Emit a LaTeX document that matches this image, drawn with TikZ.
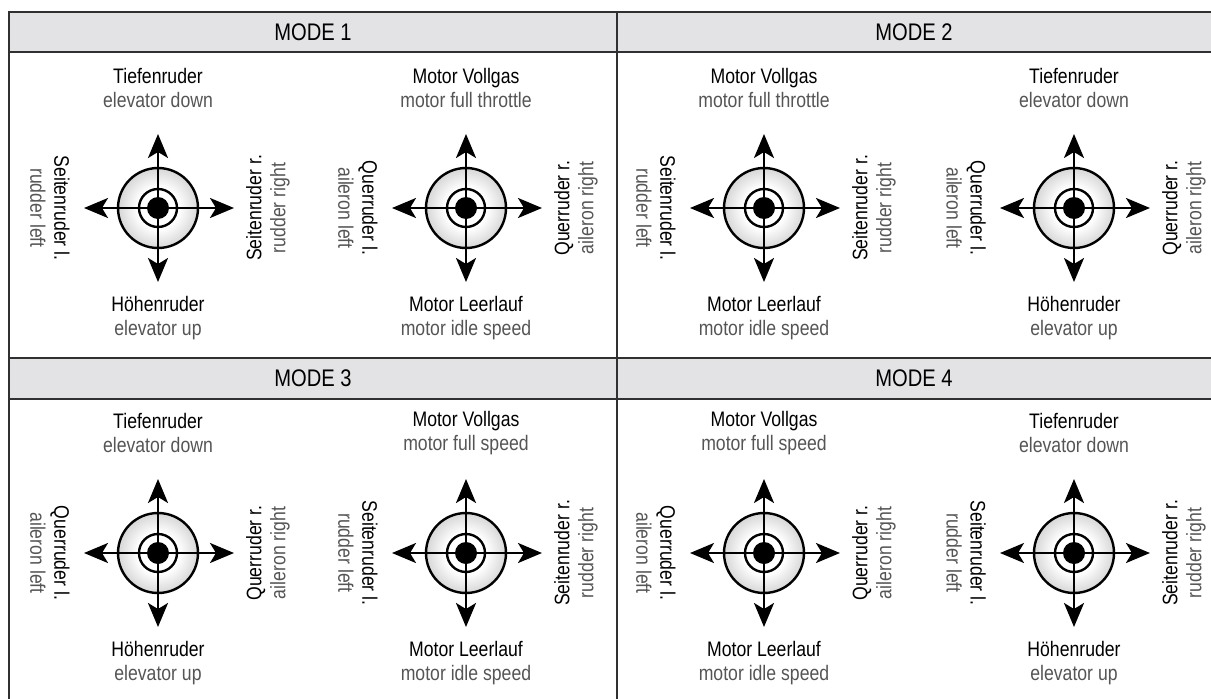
\documentclass[tikz,border=0pt]{standalone}
\usepackage{fontspec}
\setmainfont{Liberation Sans}[FakeStretch=0.84]
\usetikzlibrary{arrows.meta,calc}
\definecolor{hdr}{HTML}{E3E3E5}
\definecolor{frm}{HTML}{303030}
\definecolor{sub}{HTML}{555555}
\pgfdeclareradialshading{knob}{\pgfpoint{0bp}{0bp}}{color(0bp)=(white); color(13bp)=(white); color(32bp)=(black!25); color(50bp)=(black!72); color(100bp)=(black!72)}
\tikzset{
  lbl/.style={align=center, font=\fontsize{21}{24}\selectfont, inner sep=0pt},
  hdrtext/.style={font=\fontsize{24}{28}\selectfont, inner sep=0pt},
  jarrow/.style={line width=2.3pt, -{Stealth[length=24pt,width=20pt,inset=6pt]}},
  frame/.style={draw=frm, line width=2pt},
  knobdisc/.style={shading=knob, draw=black, line width=2.4pt},
  ring/.style={draw=black, line width=2.4pt},
  dot/.style={circle, fill=black, minimum size=22pt, inner sep=0pt}
}
\newcommand\jstick[3]{%
  \coordinate (#1) at (#2,#3);
  \shadedraw[knobdisc] (#1) circle (40pt);
  \draw[ring] (#1) circle (19pt);
  \node[dot] (#1c) at (#1) {};
  \coordinate (#1n) at ([yshift=74pt]#1);
  \coordinate (#1s) at ([yshift=-74pt]#1);
  \coordinate (#1e) at ([xshift=76pt]#1);
  \coordinate (#1w) at ([xshift=-74pt]#1);
  \draw[jarrow] (#1c.center) -- (#1n);
  \draw[jarrow] (#1c.center) -- (#1s);
  \draw[jarrow] (#1c.center) -- (#1e);
  \draw[jarrow] (#1c.center) -- (#1w);
}
\newcommand\jlabels[9]{%
  \node[lbl] (#1t) at ([yshift=120pt]#1) {#2\\\textcolor{sub}{#3}};
  \node[lbl] (#1b) at ([yshift=-110pt]#1) {#4\\\textcolor{sub}{#5}};
  \node[lbl, rotate=-90] (#1l) at ([xshift=-108pt]#1) {#6\\\textcolor{sub}{#7}};
  \node[lbl, rotate=90] (#1r) at ([xshift=110pt]#1) {#8\\\textcolor{sub}{#9}};
}
\begin{document}
\begin{tikzpicture}[x=1pt,y=-1pt]
\useasboundingbox (0,0) rectangle (1211,699);
% header bands
\fill[hdr] (9,12) rectangle (1211,52);
\fill[hdr] (9,358) rectangle (1211,399);
% frame lines
\draw[frame] (1211,12) -- (9,12) -- (9,699);
\draw[frame] (9,52) -- (1211,52);
\draw[frame] (9,358) -- (1211,358);
\draw[frame] (9,399) -- (1211,399);
\draw[frame] (617,12) -- (617,699);
% headers
\node[hdrtext] (h1) at (313,32) {MODE 1};
\node[hdrtext] (h2) at (914,32) {MODE 2};
\node[hdrtext] (h3) at (313,378) {MODE 3};
\node[hdrtext] (h4) at (914,378) {MODE 4};
% MODE 1
\jstick{a}{158}{208}
\jlabels{a}{Tiefenruder}{elevator down}{Höhenruder}{elevator up}{Seitenruder l.}{rudder left}{Seitenruder r.}{rudder right}
\jstick{b}{466}{208}
\jlabels{b}{Motor Vollgas}{motor full throttle}{Motor Leerlauf}{motor idle speed}{Querruder l.}{aileron left}{Querruder r.}{aileron right}
% MODE 2
\jstick{c}{764}{208}
\jlabels{c}{Motor Vollgas}{motor full throttle}{Motor Leerlauf}{motor idle speed}{Seitenruder l.}{rudder left}{Seitenruder r.}{rudder right}
\jstick{d}{1074}{208}
\jlabels{d}{Tiefenruder}{elevator down}{Höhenruder}{elevator up}{Querruder l.}{aileron left}{Querruder r.}{aileron right}
% MODE 3
\jstick{e}{158}{553}
\jlabels{e}{Tiefenruder}{elevator down}{Höhenruder}{elevator up}{Querruder l.}{aileron left}{Querruder r.}{aileron right}
\jstick{f}{466}{553}
\jlabels{f}{Motor Vollgas}{motor full speed}{Motor Leerlauf}{motor idle speed}{Seitenruder l.}{rudder left}{Seitenruder r.}{rudder right}
% MODE 4
\jstick{g}{764}{553}
\jlabels{g}{Motor Vollgas}{motor full speed}{Motor Leerlauf}{motor idle speed}{Querruder l.}{aileron left}{Querruder r.}{aileron right}
\jstick{h}{1074}{553}
\jlabels{h}{Tiefenruder}{elevator down}{Höhenruder}{elevator up}{Seitenruder l.}{rudder left}{Seitenruder r.}{rudder right}
\end{tikzpicture}
\end{document}
